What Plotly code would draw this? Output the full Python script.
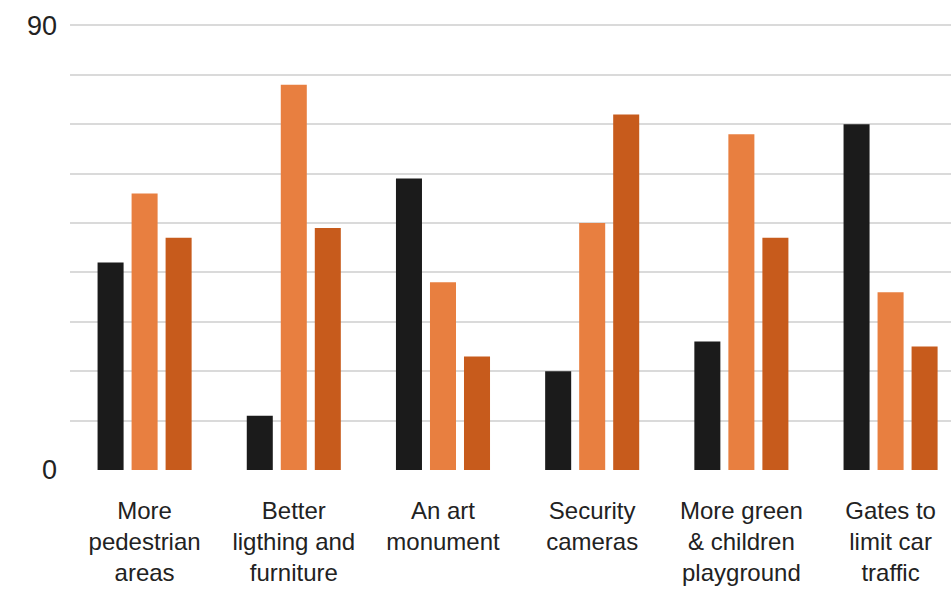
import plotly.graph_objects as go

categories = [
    "More<br>pedestrian<br>areas",
    "Better<br>ligthing and<br>furniture",
    "An art<br>monument",
    "Security<br>cameras",
    "More green<br>& children<br>playground",
    "Gates to<br>limit car<br>traffic",
]

series_names = ["Option A", "Option B", "Option C"]
series_a = [42, 11, 59, 20, 26, 70]
series_b = [56, 78, 38, 50, 68, 36]
series_c = [47, 49, 23, 72, 47, 25]
series_colors = ["#1b1b1b", "#e87f40", "#c75b1c"]

y_tick_values = [0, 90]
y_tick_labels = ["0", "90"]

font_family = "Liberation Sans, Arial, sans-serif"
text_color = "#222222"

fig = go.Figure()
for name, values, color in zip(series_names, [series_a, series_b, series_c], series_colors):
    fig.add_trace(go.Bar(
        x=categories,
        y=values,
        name=name,
        marker=dict(color=color, line=dict(width=0)),
    ))

fig.update_layout(
    width=951,
    height=590,
    margin=dict(l=70, r=0, t=24, b=120),
    paper_bgcolor="white",
    plot_bgcolor="white",
    showlegend=False,
    barmode="group",
    bargap=0.316,
    bargroupgap=0.235,
    font=dict(family=font_family, color=text_color),
)

fig.update_xaxes(
    range=[-0.5, 5.405],
    automargin=False,
    showgrid=False,
    showline=False,
    zeroline=False,
    ticks="",
    tickfont=dict(size=24, color=text_color),
    ticklabelstandoff=24,
)

fig.update_yaxes(
    range=[0, 90.3],
    automargin=False,
    tickvals=y_tick_values,
    ticktext=y_tick_labels,
    showgrid=True,
    gridcolor="#dadada",
    gridwidth=1.5,
    minor=dict(dtick=10, tick0=0, showgrid=True, gridcolor="#dadada", gridwidth=1.5),
    zeroline=True,
    zerolinecolor="white",
    zerolinewidth=2,
    showline=False,
    ticks="",
    tickfont=dict(size=27, color=text_color),
    ticklabelstandoff=12,
)

fig.write_html("out.html")
